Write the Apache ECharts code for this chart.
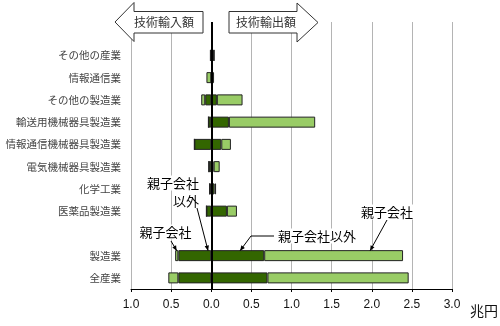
<!DOCTYPE html>
<html><head><meta charset="utf-8">
<script src="https://cdn.jsdelivr.net/npm/echarts@6/dist/echarts.min.js"></script>
<style>html,body{margin:0;padding:0;background:#fff}#c{width:500px;height:326px}</style>
</head><body><div id="c"></div>
<script>
// categories top to bottom ('' = spacer rows)
const categories = ['', 'その他の産業', '情報通信業', 'その他の製造業', '輸送用機械器具製造業', '情報通信機械器具製造業', '電気機械器具製造業', '化学工業', '医薬品製造業', '', '製造業', '全産業'];
// 技術輸入額 (兆円, magnitudes)
const importOther  = ['-', 0.01, 0,     0.075, 0.035, 0.21, 0.03, 0.02, 0.06, '-', 0.41, 0.41];
const importParent = ['-', 0,    0.06,  0.05,  0,     0,    0,    0,    0,    '-', 0.04, 0.125];
// 技術輸出額 (兆円)
const exportOther  = ['-', 0.035, 0,     0.07, 0.22,  0.125, 0.03,  0.04, 0.195, '-', 0.66, 0.70];
const exportParent = ['-', 0,     0.035, 0.32, 1.075, 0.12,  0.075, 0.02, 0.125, '-', 1.73, 1.76];
const xMin = -1.0, xMax = 3.0, xStep = 0.5;

const FONT = '"Liberation Sans","Noto Sans CJK JP",sans-serif';
const JFONT = '"Noto Sans CJK JP",sans-serif';
const DARK = '#336600', LIGHT = '#99cc66';
const neg = a => a.map(v => v === '-' ? '-' : -v);

const chart = echarts.init(document.getElementById('c'), null, {renderer: 'canvas'});
const barBase = {type: 'bar', barWidth: 11, barGap: '-100%',
  itemStyle: {borderColor: '#222', borderWidth: 1}};

chart.setOption({
  animation: false,
  backgroundColor: '#fff',
  grid: {left: 131, right: 48, top: 22, bottom: 37},
  xAxis: {
    type: 'value', min: xMin, max: xMax, interval: xStep,
    axisLine: {show: true, onZero: false, lineStyle: {color: '#000', width: 1}},
    axisTick: {show: true, length: 3, inside: false, lineStyle: {color: '#000'}},
    axisLabel: {margin: 10, fontSize: 12, color: '#111', fontFamily: FONT,
      formatter: v => Math.abs(v).toFixed(1)},
    splitLine: {show: true, lineStyle: {color: '#b4b4b4', width: 1}}
  },
  yAxis: {
    type: 'category', data: categories, inverse: true,
    axisLine: {show: false}, axisTick: {show: false},
    axisLabel: {margin: 10, fontSize: 10.5, color: '#444', fontFamily: JFONT}
  },
  series: [
    Object.assign({}, barBase, {name: '親子会社以外', stack: 'exp', data: exportOther, itemStyle: {color: DARK, borderColor: '#222', borderWidth: 1}}),
    Object.assign({}, barBase, {name: '親子会社', stack: 'exp', data: exportParent, itemStyle: {color: LIGHT, borderColor: '#222', borderWidth: 1}}),
    Object.assign({}, barBase, {name: '親子会社以外', stack: 'imp', data: neg(importOther), itemStyle: {color: DARK, borderColor: '#222', borderWidth: 1}}),
    Object.assign({}, barBase, {name: '親子会社', stack: 'imp', data: neg(importParent), itemStyle: {color: LIGHT, borderColor: '#222', borderWidth: 1},
      markLine: {silent: true, symbol: 'none', label: {show: false},
        lineStyle: {color: '#000', width: 2, type: 'solid'}, data: [{xAxis: 0}]}})
  ]
});

function arrowEls(pts) {
  const els = [{type: 'polyline', z: 20, shape: {points: pts}, style: {stroke: '#000', lineWidth: 1, fill: null}}];
  const [x1, y1] = pts[pts.length - 2], [x2, y2] = pts[pts.length - 1];
  const a = Math.atan2(y2 - y1, x2 - x1), L = 5, w = 2.2;
  const bx = x2 - L * Math.cos(a), by = y2 - L * Math.sin(a);
  const px = -Math.sin(a) * w, py = Math.cos(a) * w;
  els.push({type: 'polygon', z: 20, shape: {points: [[x2, y2], [bx + px, by + py], [bx - px, by - py]]}, style: {fill: '#000'}});
  return els;
}
function label(text, x, y, align) {
  return {type: 'text', z: 15, style: {text: text, x: x, y: y, fill: '#000', font: '13px ' + JFONT,
    align: align, textAlign: align, verticalAlign: 'middle', textVerticalAlign: 'middle',
    backgroundColor: '#fff', padding: [1, 1]}};
}
function bigArrow(points, text, cx) {
  return [
    {type: 'polygon', z: 10, shape: {points: points}, style: {fill: '#fff', stroke: '#333', lineWidth: 1}},
    {type: 'text', z: 11, style: {text: text, x: cx, y: 22, fill: '#333', font: '12px ' + JFONT,
      align: 'center', textAlign: 'center', verticalAlign: 'middle', textVerticalAlign: 'middle'}}
  ];
}

const P = (v, c) => chart.convertToPixel({gridIndex: 0}, [v, c]);
const mfg = '製造業';
const yc = P(0, mfg)[1];
const barTop = yc - 5;
const tipImpOther = [P(-0.04, mfg)[0], barTop];
const tipImpParent = [P(-0.43, mfg)[0], barTop];
const tipExpOther = [P(0.36, mfg)[0], barTop];
const tipExpParent = [P(1.98, mfg)[0], barTop];
const y0 = P(0, mfg)[0];

let g = [];
g = g.concat(bigArrow([[115, 22], [134, 2.5], [134, 11.5], [203, 11.5], [203, 33], [134, 33], [134, 41.5]], '技術輸入額', 164));
g = g.concat(bigArrow([[229, 11.5], [297, 11.5], [297, 3], [318, 22.5], [297, 42], [297, 33], [229, 33]], '技術輸出額', 266));
g.push(label('親子会社', 200, 183, 'right'));
g.push(label('以外', 200, 201, 'right'));
g = g.concat(arrowEls([[197, 208], tipImpOther]));
g.push(label('親子会社', 165.5, 232, 'center'));
g = g.concat(arrowEls([[171, 241], tipImpParent]));
g.push(label('親子会社以外', 277, 236, 'left'));
g = g.concat(arrowEls([[274, 236], [251, 236], tipExpOther]));
g.push(label('親子会社', 387, 212, 'center'));
g = g.concat(arrowEls([[387, 220], tipExpParent]));
g.push({type: 'text', z: 11, style: {text: '兆円', x: 470, y: 311, fill: '#111', font: '14px ' + JFONT,
  align: 'left', textAlign: 'left', verticalAlign: 'middle', textVerticalAlign: 'middle'}});
chart.setOption({graphic: g});
</script>
</body></html>
